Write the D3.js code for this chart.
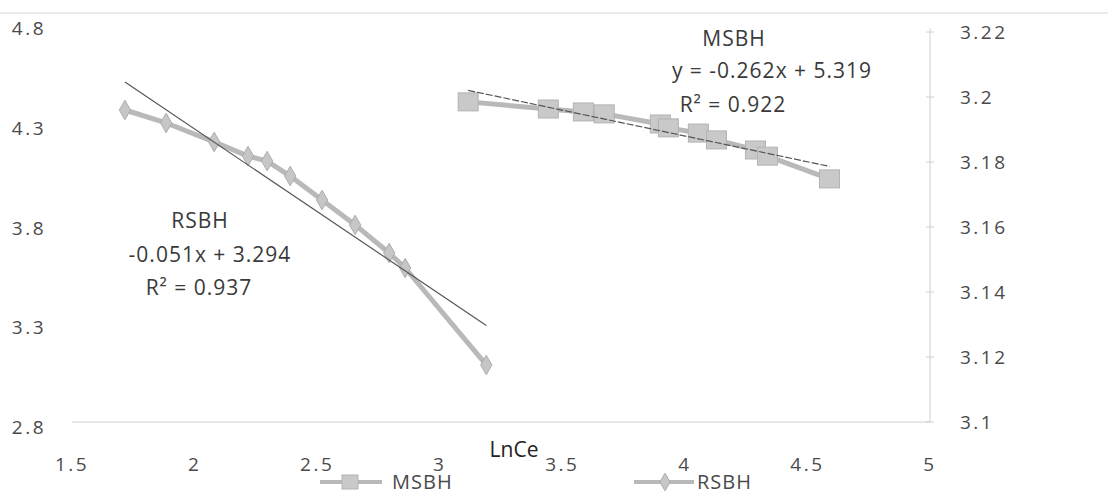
<!DOCTYPE html>
<html>
<head>
    <meta charset="utf-8">
    <title>LnCe</title>
    <script src="https://d3js.org/d3.v7.min.js"></script>
    <style>
        body { margin: 0; background: #fff; }
        text { font-family: "Open Sans", sans-serif; fill: #4a4a4a; }
    </style>
</head>
<body>
    <script>
        var width = 1108;
        var height = 495;

        // data
        var xTicks = [1.5, 2, 2.5, 3, 3.5, 4, 4.5, 5];
        var leftTicks = [2.8, 3.3, 3.8, 4.3, 4.8];
        var rightTicks = [3.1, 3.12, 3.14, 3.16, 3.18, 3.2, 3.22];

        var rsbhX = [1.716, 1.884, 2.080, 2.218, 2.296, 2.390, 2.520, 2.655, 2.794, 2.859, 3.190];
        var rsbhY = [4.389, 4.324, 4.229, 4.158, 4.133, 4.058, 3.938, 3.813, 3.672, 3.597, 3.111];

        var msbhX = [3.116, 3.443, 3.586, 3.671, 3.900, 3.933, 4.055, 4.129, 4.288, 4.337, 4.590];
        var msbhY = [3.1985, 3.1963, 3.1954, 3.1948, 3.1917, 3.1905, 3.1889, 3.1868, 3.1837, 3.1818, 3.1748];

        var rsbhLabel = ["RSBH", "-0.051x + 3.294", "R\u00b2 = 0.937"];
        var msbhLabel = ["MSBH", "y = -0.262x + 5.319", "R\u00b2 = 0.922"];

        var x = d3.scaleLinear().domain([1.5, 5]).range([72, 930]);
        var yL = d3.scaleLinear().domain([2.8, 4.8]).range([427, 28]);
        var yR = d3.scaleLinear().domain([3.1, 3.22]).range([422, 32]);

        var svg = d3.select("body").append("svg")
            .attr("width", width)
            .attr("height", height);

        // faint frame lines from the scan
        svg.append("line").attr("x1", 0).attr("x2", width).attr("y1", 13).attr("y2", 13)
            .style("stroke", "#d6d6d6").style("stroke-width", 1);
        svg.append("line").attr("x1", x(1.5)).attr("x2", x(5)).attr("y1", yR(3.1)).attr("y2", yR(3.1))
            .style("stroke", "#d0d0d0").style("stroke-width", 1);
        svg.append("line").attr("x1", x(5)).attr("x2", x(5)).attr("y1", yR(3.22) - 4).attr("y2", yR(3.1))
            .style("stroke", "#d0d0d0").style("stroke-width", 1);
        svg.selectAll("line.rtick")
            .data(rightTicks)
            .enter().append("line")
            .attr("class", "rtick")
            .attr("x1", x(5) - 4).attr("x2", x(5) + 4)
            .attr("y1", function(d) { return yR(d); })
            .attr("y2", function(d) { return yR(d); })
            .style("stroke", "#d0d0d0");

        // tick labels
        svg.selectAll("text.xt")
            .data(xTicks)
            .enter().append("text")
            .attr("class", "xt")
            .attr("x", function(d) { return x(d); })
            .attr("y", 471)
            .attr("text-anchor", "middle")
            .style("font-size", "19px")
            .style("letter-spacing", "2.5px")
            .text(function(d) { return d; });

        svg.selectAll("text.lt")
            .data(leftTicks)
            .enter().append("text")
            .attr("class", "lt")
            .attr("x", 46)
            .attr("y", function(d) { return yL(d) + 7; })
            .attr("text-anchor", "end")
            .style("font-size", "19px")
            .style("letter-spacing", "2.5px")
            .text(function(d) { return d.toFixed(1); });

        svg.selectAll("text.rt")
            .data(rightTicks)
            .enter().append("text")
            .attr("class", "rt")
            .attr("x", 960)
            .attr("y", function(d) { return yR(d) + 7; })
            .style("font-size", "19px")
            .style("letter-spacing", "2.5px")
            .text(function(d) { return String(d); });

        function fit(xs, ys) {
            var mx = d3.mean(xs), my = d3.mean(ys);
            var sxy = d3.sum(xs, function(v, i) { return (v - mx) * (ys[i] - my); });
            var sxx = d3.sum(xs, function(v) { return (v - mx) * (v - mx); });
            var b = sxy / sxx;
            return { b: b, a: my - b * mx };
        }

        var line = d3.line();

        // RSBH series (left axis)
        var rsbhPts = rsbhX.map(function(v, i) { return [x(v), yL(rsbhY[i])]; });
        svg.append("path")
            .attr("d", line(rsbhPts))
            .style("fill", "none").style("stroke", "#b9b9b9").style("stroke-width", 5)
            .style("stroke-linejoin", "round");
        svg.selectAll("path.diamond")
            .data(rsbhPts)
            .enter().append("path")
            .attr("class", "diamond")
            .attr("d", d3.symbol(d3.symbolDiamond, 110))
            .attr("transform", function(d) { return "translate(" + d[0] + "," + d[1] + ")"; })
            .style("fill", "#c6c6c6").style("stroke", "#adadad");

        var fr = fit(rsbhX, rsbhY);
        var x0 = d3.min(rsbhX), x1 = d3.max(rsbhX);
        svg.append("line")
            .attr("x1", x(x0)).attr("y1", yL(fr.a + fr.b * x0))
            .attr("x2", x(x1)).attr("y2", yL(fr.a + fr.b * x1))
            .style("stroke", "#555").style("stroke-width", 1.2);

        // MSBH series (right axis)
        var msbhPts = msbhX.map(function(v, i) { return [x(v), yR(msbhY[i])]; });
        svg.append("path")
            .attr("d", line(msbhPts))
            .style("fill", "none").style("stroke", "#b9b9b9").style("stroke-width", 5)
            .style("stroke-linejoin", "round");
        svg.selectAll("rect.sq")
            .data(msbhPts)
            .enter().append("rect")
            .attr("class", "sq")
            .attr("x", function(d) { return d[0] - 10; })
            .attr("y", function(d) { return d[1] - 9; })
            .attr("width", 20).attr("height", 18)
            .style("fill", "#c9c9c9").style("stroke", "#b3b3b3");

        var fm = fit(msbhX, msbhY);
        var m0 = d3.min(msbhX), m1 = d3.max(msbhX);
        svg.append("line")
            .attr("x1", x(m0)).attr("y1", yR(fm.a + fm.b * m0))
            .attr("x2", x(m1)).attr("y2", yR(fm.a + fm.b * m1))
            .style("stroke", "#555").style("stroke-width", 1.2)
            .style("stroke-dasharray", "7,2");

        // equation labels
        var rPos = [[200, 228], [210, 262], [199, 295]];
        rsbhLabel.forEach(function(t, i) {
            svg.append("text")
                .attr("x", rPos[i][0]).attr("y", rPos[i][1])
                .attr("text-anchor", "middle")
                .style("font-size", "21px").style("letter-spacing", "1px")
                .style("fill", "#3a3a3a")
                .text(t);
        });
        var mPos = [[734, 46], [772, 78], [733, 112]];
        msbhLabel.forEach(function(t, i) {
            svg.append("text")
                .attr("x", mPos[i][0]).attr("y", mPos[i][1])
                .attr("text-anchor", "middle")
                .style("font-size", "21px").style("letter-spacing", "1px")
                .style("fill", "#3a3a3a")
                .text(t);
        });

        // axis title
        svg.append("text")
            .attr("x", 514).attr("y", 457)
            .attr("text-anchor", "middle")
            .style("font-size", "21px")
            .style("fill", "#222")
            .text("LnCe");

        // legend
        var lg = svg.append("g");
        lg.append("line").attr("x1", 320).attr("x2", 382).attr("y1", 482).attr("y2", 482)
            .style("stroke", "#b9b9b9").style("stroke-width", 4);
        lg.append("rect").attr("x", 342).attr("y", 475).attr("width", 16).attr("height", 14)
            .style("fill", "#c9c9c9").style("stroke", "#b3b3b3");
        lg.append("text").attr("x", 392).attr("y", 489)
            .style("font-size", "20px").style("letter-spacing", "1px").text("MSBH");
        lg.append("line").attr("x1", 634).attr("x2", 694).attr("y1", 482).attr("y2", 482)
            .style("stroke", "#b9b9b9").style("stroke-width", 4);
        lg.append("path").attr("d", d3.symbol(d3.symbolDiamond, 90))
            .attr("transform", "translate(665,482)")
            .style("fill", "#c6c6c6").style("stroke", "#adadad");
        lg.append("text").attr("x", 697).attr("y", 489)
            .style("font-size", "20px").style("letter-spacing", "1px").text("RSBH");
    </script>
</body>
</html>
